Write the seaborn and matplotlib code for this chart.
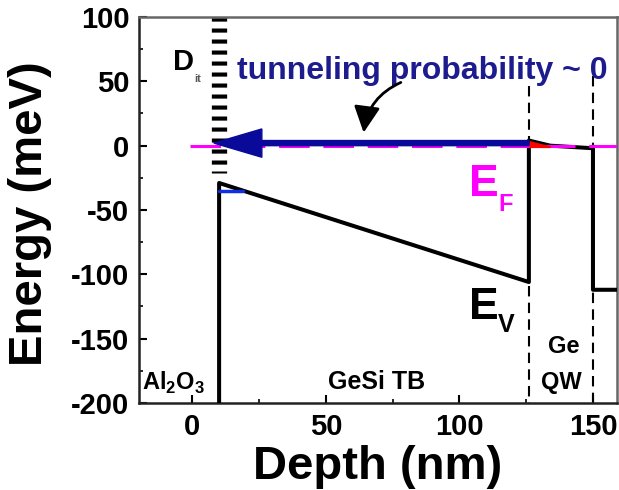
import numpy as np
import matplotlib
matplotlib.use("Agg")
import matplotlib.pyplot as plt
import seaborn as sns

# valence band edge E_V across the stack (depth in nm, energy in meV)
ev_depth = [10, 10, 126, 126, 134, 150, 150, 160]
ev_energy = [-200, -29, -106, 4, 0, -2, -112, -112]

# holes above E_F at the top of the QW (red sliver)
hole_depth = [126, 134]
hole_top = [4, 0]
hole_bottom = [-1.5, -1.5]

# small blue state under E_V at the oxide interface
blue_depth = [10, 19]
blue_energy = [-35, -35]

# interface traps D_it
dit_depth = [10, 10]
dit_energy = [100, -21]

# layer boundaries (dashed)
boundary_depth = [126, 150]
boundary_top = [46, 54]

# Fermi level
ef_depth = [-1, 160]
ef_energy = [0, 0]

# tunneling arrow (tail -> tip)
tunnel_start = (126, 2)
tunnel_end = (8, 2)

# curved pointer from the text to the arrow
pointer_tail = (79, 50)
pointer_head = (64, 8)

x_ticks = [0, 50, 100, 150]
y_ticks = [-200, -150, -100, -50, 0, 50, 100]

sns.set_style("ticks")
plt.rcParams["font.family"] = ["Liberation Sans", "DejaVu Sans"]
plt.rcParams["mathtext.fontset"] = "custom"
plt.rcParams["mathtext.rm"] = "Liberation Sans:bold"
plt.rcParams["axes.unicode_minus"] = False
plt.rcParams["text.color"] = "black"
plt.rcParams["axes.labelcolor"] = "black"
plt.rcParams["xtick.color"] = "black"
plt.rcParams["ytick.color"] = "black"

fig = plt.figure(figsize=(6.19, 4.9), dpi=100)
ax = fig.add_axes([139 / 619, 1 - 403 / 490, 478 / 619, 386 / 490])

# layer boundaries
for d, top in zip(boundary_depth, boundary_top):
    ax.plot([d, d], [top, -200], color="black", lw=1.5, dashes=(5, 3), zorder=1)

# Dit stack
ax.plot(dit_depth, dit_energy, color="black", lw=11, dashes=(0.27, 0.45),
        solid_capstyle="butt", dash_capstyle="butt", zorder=2)

# valence band
sns.lineplot(x=ev_depth, y=ev_energy, sort=False, estimator=None,
             color="black", lw=2.9, ax=ax, zorder=3)
sns.lineplot(x=blue_depth, y=blue_energy, sort=False, estimator=None,
             color="#1030e0", lw=2.5, ax=ax, zorder=3)

# Fermi level
ax.plot(ef_depth, ef_energy, color="#ff00ff", lw=2.2, dashes=(10, 4.5), zorder=4)
ax.fill_between(hole_depth, hole_bottom, hole_top, color="#ff0000", lw=0, zorder=5)

# tunneling arrow
ax.arrow(tunnel_start[0], tunnel_start[1], tunnel_end[0] - tunnel_start[0], 0,
         width=4, head_width=22, head_length=18, length_includes_head=True,
         color="#0a0a9a", zorder=6)

ax.annotate("", xy=pointer_head, xytext=pointer_tail,
            arrowprops=dict(arrowstyle="-|>,head_length=0.8,head_width=0.4",
                            connectionstyle="arc3,rad=0.3", color="black",
                            lw=2, mutation_scale=20), zorder=7)

# labels inside the plot
ax.text(-3.5, 65, "D", fontsize=21, fontweight="bold", ha="center", va="center",
        color="black")
ax.text(0.8, 52, "it", fontsize=8, fontweight="bold", ha="left", va="center",
        color="#555555")
ax.text(86, 58, "tunneling probability ~ 0", fontsize=23, fontweight="bold",
        color="#1c1c8f", ha="center", va="center")
ax.text(103.5, -39.5, "E", fontsize=32, fontweight="bold", color="#ff00ff",
        ha="left", va="baseline")
ax.text(114.5, -51, "F", fontsize=17, fontweight="bold", color="#ff00ff",
        ha="left", va="baseline")
ax.text(103.5, -135, "E", fontsize=32, fontweight="bold", color="black",
        ha="left", va="baseline")
ax.text(114.5, -145, "V", fontsize=18, fontweight="bold", color="black",
        ha="left", va="baseline")
ax.text(-18.7, -189.5, r"Al$_2$O$_3$", fontsize=17, fontweight="bold",
        ha="left", va="baseline")
ax.text(69, -189.5, "GeSi TB", fontsize=18, fontweight="bold",
        ha="center", va="baseline")
ax.text(139, -161, "Ge", fontsize=17, fontweight="bold", ha="center", va="baseline")
ax.text(138, -189.5, "QW", fontsize=17, fontweight="bold", ha="center", va="baseline")

ax.set_xlim(-20, 159)
ax.set_ylim(-200, 100)
ax.set_xticks(x_ticks)
ax.set_yticks(y_ticks)
ax.set_xticks([25, 75, 125], minor=True)
ax.set_yticks([-175, -125, -75, -25, 25, 75], minor=True)
ax.tick_params(which="major", direction="in", length=6, width=1.5, pad=7,
               labelsize=21)
ax.tick_params(which="minor", direction="in", length=3, width=1.2)
for lab in ax.get_xticklabels() + ax.get_yticklabels():
    lab.set_fontweight("bold")

for side in ["left", "bottom", "right", "top"]:
    ax.spines[side].set_linewidth(1.8)
    ax.spines[side].set_color("#222222")
ax.spines["top"].set_color("#666666")
ax.spines["right"].set_color("#666666")

ax.set_xlabel("Depth (nm)", fontsize=34, fontweight="bold")
ax.set_ylabel("Energy (meV)", fontsize=34, fontweight="bold")
ax.xaxis.set_label_coords(0.5, -0.11)
ax.yaxis.set_label_coords(-0.182, 0.49)

fig.savefig("out.png", dpi=100)
